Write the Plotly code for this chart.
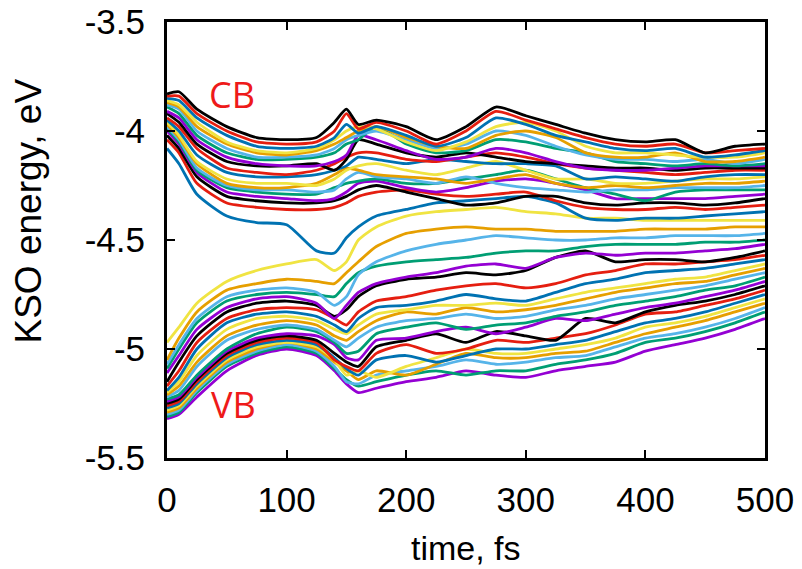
import plotly.graph_objects as go

# time grid (fs)
time_fs = [0, 10, 25, 50, 75, 100, 125, 140, 150, 160, 175, 200, 225, 250,
           275, 300, 325, 350, 375, 400, 425, 450, 475, 500]

# KSO energies (eV), ordered from lowest (VB) to highest (CB) at t = 0
vb01 = [-5.32, -5.30, -5.22, -5.10, -5.03, -5.00, -5.03, -5.10, -5.16, -5.20, -5.18, -5.15, -5.13, -5.10, -5.12, -5.13, -5.10, -5.08, -5.06, -5.01, -4.98, -4.95, -4.91, -4.86]
vb02 = [-5.31, -5.29, -5.20, -5.08, -5.02, -4.99, -5.02, -5.09, -5.14, -5.17, -5.15, -5.12, -5.10, -5.12, -5.10, -5.10, -5.07, -5.05, -5.02, -4.97, -4.95, -4.92, -4.88, -4.83]
vb03 = [-5.30, -5.28, -5.19, -5.07, -5.01, -4.98, -5.01, -5.08, -5.15, -5.16, -5.12, -5.10, -5.08, -5.05, -5.07, -5.06, -5.04, -5.03, -4.99, -4.95, -4.93, -4.90, -4.86, -4.81]
vb04 = [-5.29, -5.27, -5.18, -5.06, -5.00, -4.97, -5.00, -5.06, -5.10, -5.14, -5.10, -5.12, -5.07, -5.02, -5.04, -5.04, -5.02, -5.01, -4.97, -4.93, -4.90, -4.87, -4.83, -4.79]
vb05 = [-5.28, -5.26, -5.17, -5.05, -4.99, -4.97, -4.99, -5.05, -5.12, -5.10, -5.13, -5.08, -5.04, -5.00, -5.02, -5.02, -5.00, -4.98, -4.95, -4.90, -4.88, -4.85, -4.81, -4.77]
vb06 = [-5.27, -5.25, -5.16, -5.04, -4.98, -4.96, -4.98, -5.04, -5.09, -5.12, -5.05, -5.03, -5.06, -5.03, -5.00, -5.00, -4.98, -4.96, -4.92, -4.88, -4.86, -4.83, -4.79, -4.75]
vb07 = [-5.26, -5.24, -5.15, -5.03, -4.97, -4.95, -4.97, -5.05, -5.08, -5.10, -5.02, -4.98, -5.02, -5.00, -4.96, -4.97, -4.95, -4.93, -4.89, -4.84, -4.83, -4.80, -4.77, -4.73]
vb08 = [-5.25, -5.23, -5.14, -5.02, -4.96, -4.94, -4.96, -5.02, -5.06, -5.08, -4.99, -4.96, -4.93, -4.97, -4.92, -4.94, -4.96, -4.86, -4.88, -4.83, -4.80, -4.78, -4.75, -4.71]
vb09 = [-5.24, -5.22, -5.13, -5.01, -4.95, -4.93, -4.94, -4.98, -5.04, -5.05, -4.96, -4.95, -4.92, -4.90, -4.93, -4.90, -4.86, -4.87, -4.84, -4.81, -4.79, -4.76, -4.73, -4.69]
vb10 = [-5.23, -5.21, -5.12, -5.00, -4.93, -4.90, -4.92, -4.97, -5.02, -5.01, -4.93, -4.90, -4.88, -4.91, -4.89, -4.88, -4.85, -4.83, -4.80, -4.78, -4.76, -4.73, -4.71, -4.67]
vb11 = [-5.22, -5.19, -5.08, -4.96, -4.91, -4.89, -4.91, -4.96, -4.99, -4.95, -4.90, -4.87, -4.86, -4.84, -4.86, -4.85, -4.82, -4.80, -4.77, -4.75, -4.73, -4.71, -4.68, -4.65]
vb12 = [-5.21, -5.17, -5.06, -4.94, -4.89, -4.87, -4.89, -4.94, -4.96, -4.92, -4.87, -4.83, -4.84, -4.81, -4.83, -4.82, -4.80, -4.77, -4.74, -4.72, -4.70, -4.69, -4.66, -4.63]
vb13 = [-5.20, -5.15, -5.03, -4.91, -4.86, -4.85, -4.87, -4.91, -4.93, -4.89, -4.84, -4.82, -4.80, -4.80, -4.79, -4.80, -4.77, -4.74, -4.72, -4.70, -4.68, -4.67, -4.64, -4.61]
vb14 = [-5.19, -5.13, -5.00, -4.88, -4.84, -4.83, -4.85, -4.89, -4.92, -4.86, -4.81, -4.80, -4.78, -4.75, -4.77, -4.78, -4.74, -4.70, -4.68, -4.65, -4.64, -4.63, -4.61, -4.59]
vb15 = [-5.17, -5.10, -4.97, -4.86, -4.82, -4.81, -4.82, -4.86, -4.89, -4.83, -4.78, -4.76, -4.73, -4.71, -4.70, -4.72, -4.70, -4.66, -4.64, -4.61, -4.61, -4.60, -4.59, -4.57]
vb16 = [-5.15, -5.06, -4.94, -4.83, -4.79, -4.78, -4.80, -4.85, -4.82, -4.76, -4.71, -4.68, -4.67, -4.65, -4.66, -4.64, -4.58, -4.55, -4.60, -4.59, -4.59, -4.60, -4.58, -4.55]
vb17 = [-5.11, -5.03, -4.91, -4.81, -4.77, -4.76, -4.79, -4.86, -4.80, -4.74, -4.70, -4.67, -4.65, -4.62, -4.61, -4.63, -4.58, -4.56, -4.57, -4.56, -4.56, -4.55, -4.54, -4.52]
vb18 = [-5.09, -5.00, -4.88, -4.78, -4.75, -4.74, -4.75, -4.76, -4.70, -4.65, -4.62, -4.60, -4.59, -4.58, -4.56, -4.55, -4.55, -4.53, -4.52, -4.52, -4.52, -4.51, -4.51, -4.50]
vb19 = [-5.07, -4.98, -4.86, -4.76, -4.73, -4.72, -4.74, -4.80, -4.76, -4.66, -4.60, -4.55, -4.52, -4.50, -4.48, -4.49, -4.50, -4.50, -4.49, -4.49, -4.48, -4.48, -4.48, -4.47]
vb20 = [-5.05, -4.95, -4.83, -4.73, -4.70, -4.68, -4.69, -4.70, -4.65, -4.60, -4.53, -4.47, -4.45, -4.44, -4.45, -4.45, -4.46, -4.46, -4.46, -4.45, -4.45, -4.45, -4.44, -4.44]
vb21 = [-4.97, -4.90, -4.79, -4.69, -4.64, -4.61, -4.59, -4.64, -4.60, -4.50, -4.44, -4.39, -4.37, -4.36, -4.35, -4.37, -4.38, -4.40, -4.40, -4.41, -4.41, -4.41, -4.41, -4.41]
cb22 = [-4.08, -4.15, -4.29, -4.39, -4.42, -4.43, -4.55, -4.56, -4.49, -4.44, -4.39, -4.36, -4.33, -4.32, -4.31, -4.30, -4.33, -4.40, -4.41, -4.40, -4.40, -4.39, -4.38, -4.37]
cb23 = [-4.04, -4.10, -4.24, -4.33, -4.35, -4.36, -4.36, -4.35, -4.33, -4.30, -4.28, -4.27, -4.29, -4.30, -4.29, -4.28, -4.32, -4.35, -4.36, -4.36, -4.35, -4.36, -4.35, -4.34]
cb24 = [-4.02, -4.08, -4.21, -4.30, -4.32, -4.33, -4.33, -4.32, -4.30, -4.27, -4.25, -4.28, -4.31, -4.34, -4.33, -4.30, -4.30, -4.33, -4.34, -4.33, -4.33, -4.34, -4.33, -4.31]
cb25 = [-4.00, -4.06, -4.19, -4.28, -4.30, -4.31, -4.32, -4.31, -4.28, -4.24, -4.23, -4.26, -4.28, -4.26, -4.23, -4.22, -4.24, -4.27, -4.31, -4.31, -4.31, -4.31, -4.30, -4.29]
cb26 = [-3.99, -4.05, -4.18, -4.26, -4.28, -4.29, -4.29, -4.26, -4.24, -4.23, -4.22, -4.24, -4.24, -4.22, -4.20, -4.18, -4.22, -4.26, -4.29, -4.32, -4.28, -4.27, -4.27, -4.27]
cb27 = [-3.98, -4.04, -4.17, -4.25, -4.27, -4.27, -4.28, -4.27, -4.22, -4.19, -4.21, -4.22, -4.24, -4.21, -4.24, -4.26, -4.27, -4.28, -4.27, -4.27, -4.26, -4.26, -4.26, -4.25]
cb28 = [-3.97, -4.03, -4.15, -4.24, -4.26, -4.26, -4.24, -4.20, -4.17, -4.18, -4.20, -4.21, -4.22, -4.24, -4.22, -4.20, -4.24, -4.26, -4.25, -4.26, -4.25, -4.24, -4.24, -4.23]
cb29 = [-3.96, -4.02, -4.14, -4.22, -4.24, -4.24, -4.25, -4.22, -4.18, -4.16, -4.15, -4.18, -4.20, -4.17, -4.14, -4.18, -4.22, -4.22, -4.24, -4.24, -4.23, -4.22, -4.22, -4.21]
cb30 = [-3.95, -4.00, -4.11, -4.19, -4.21, -4.21, -4.20, -4.18, -4.16, -4.12, -4.13, -4.15, -4.13, -4.14, -4.15, -4.15, -4.16, -4.22, -4.21, -4.22, -4.23, -4.21, -4.20, -4.20]
cb31 = [-3.94, -3.98, -4.08, -4.17, -4.19, -4.20, -4.18, -4.15, -4.12, -4.10, -4.10, -4.13, -4.14, -4.12, -4.10, -4.12, -4.15, -4.17, -4.18, -4.19, -4.20, -4.19, -4.18, -4.18]
cb32 = [-3.92, -3.96, -4.06, -4.14, -4.16, -4.16, -4.15, -4.18, -4.13, -4.04, -4.06, -4.10, -4.12, -4.10, -4.12, -4.14, -4.15, -4.16, -4.17, -4.17, -4.18, -4.17, -4.17, -4.17]
cb33 = [-3.91, -3.94, -4.04, -4.12, -4.15, -4.16, -4.16, -4.14, -4.11, -4.02, -4.04, -4.09, -4.13, -4.12, -4.08, -4.10, -4.14, -4.17, -4.18, -4.18, -4.17, -4.16, -4.16, -4.16]
cb34 = [-3.89, -3.92, -4.02, -4.10, -4.13, -4.13, -4.12, -4.10, -4.06, -4.04, -3.98, -4.06, -4.10, -4.09, -4.04, -4.05, -4.08, -4.10, -4.14, -4.15, -4.16, -4.15, -4.16, -4.15]
cb35 = [-3.88, -3.90, -4.00, -4.08, -4.12, -4.12, -4.11, -4.08, -4.04, -4.02, -4.00, -4.04, -4.08, -4.06, -4.00, -4.02, -4.07, -4.11, -4.13, -4.13, -4.14, -4.13, -4.15, -4.13]
cb36 = [-3.87, -3.89, -3.98, -4.06, -4.10, -4.11, -4.09, -4.06, -4.03, -4.00, -3.98, -4.03, -4.07, -4.08, -4.02, -4.00, -4.03, -4.10, -4.12, -4.12, -4.10, -4.14, -4.14, -4.12]
cb37 = [-3.86, -3.88, -3.96, -4.05, -4.09, -4.10, -4.08, -4.04, -4.00, -3.98, -3.99, -4.05, -4.09, -4.05, -3.98, -3.96, -4.00, -4.07, -4.10, -4.10, -4.11, -4.12, -4.12, -4.10]
cb38 = [-3.85, -3.86, -3.94, -4.02, -4.07, -4.08, -4.07, -4.03, -3.97, -4.01, -3.98, -4.02, -4.07, -4.03, -3.94, -3.97, -4.02, -4.05, -4.08, -4.09, -4.08, -4.12, -4.11, -4.09]
cb39 = [-3.84, -3.84, -3.92, -4.00, -4.05, -4.06, -4.05, -4.00, -3.92, -3.99, -3.96, -4.00, -4.06, -4.00, -3.91, -3.95, -3.99, -4.03, -4.06, -4.07, -4.06, -4.10, -4.09, -4.08]
cb40 = [-3.83, -3.82, -3.90, -3.98, -4.03, -4.04, -4.03, -3.96, -3.90, -3.97, -3.95, -3.98, -4.04, -3.98, -3.89, -3.93, -3.97, -4.01, -4.04, -4.05, -4.04, -4.10, -4.07, -4.06]

levels = [vb01, vb02, vb03, vb04, vb05, vb06, vb07, vb08, vb09, vb10, vb11,
          vb12, vb13, vb14, vb15, vb16, vb17, vb18, vb19, vb20, vb21,
          cb22, cb23, cb24, cb25, cb26, cb27, cb28, cb29, cb30, cb31, cb32,
          cb33, cb34, cb35, cb36, cb37, cb38, cb39, cb40]

# gnuplot-like default colour cycle
palette = ["#9400D3", "#009E73", "#56B4E9", "#E69F00", "#F0E442",
           "#0072B2", "#E51E10", "#000000"]

x_ticks = [0, 100, 200, 300, 400, 500]
y_ticks = [-3.5, -4, -4.5, -5, -5.5]
y_tick_text = ["-3.5", "-4", "-4.5", "-5", "-5.5"]

FONT = "Liberation Sans, Arial"

fig = go.Figure()
for i, lev in enumerate(levels):
    fig.add_trace(go.Scatter(
        x=time_fs, y=lev, mode="lines",
        line=dict(color=palette[i % len(palette)], width=2.8, shape="spline", smoothing=0.6),
        showlegend=False, hoverinfo="skip"))

fig.add_annotation(x=0.109, y=0.833, xref="paper", yref="paper", text="CB",
                   xanchor="center", yanchor="middle", showarrow=False,
                   font=dict(family="Open Sans", size=36, color="#EE1A1A"))
fig.add_annotation(x=0.112, y=0.122, xref="paper", yref="paper", text="VB",
                   xanchor="center", yanchor="middle", showarrow=False,
                   font=dict(family="Open Sans", size=36, color="#EE1A1A"))
# axis titles
fig.add_annotation(x=-0.232, y=0.566, xref="paper", yref="paper", text="KSO energy, eV",
                   textangle=-90, xanchor="center", yanchor="middle", showarrow=False,
                   font=dict(family=FONT, size=37, color="black"))
fig.add_annotation(x=0.50, y=-0.206, xref="paper", yref="paper", text="time, fs",
                   xanchor="center", yanchor="middle", showarrow=False,
                   font=dict(family=FONT, size=34, color="black"))

axis_common = dict(showline=True, linecolor="black", linewidth=3, mirror="ticks",
                   ticks="inside", ticklen=8, tickwidth=2, tickcolor="black",
                   showgrid=False, zeroline=False, automargin=False,
                   tickfont=dict(family=FONT, size=35, color="black"))

fig.update_layout(
    width=802, height=569,
    margin=dict(l=167, r=37, t=22, b=111),
    plot_bgcolor="white", paper_bgcolor="white",
    xaxis=dict(range=[0, 500], tickvals=x_ticks, ticklabelstandoff=9, **axis_common),
    yaxis=dict(range=[-5.5, -3.5], tickvals=y_ticks, ticktext=y_tick_text,
               ticklabelstandoff=12, **axis_common),
)

fig.write_html("out.html")
